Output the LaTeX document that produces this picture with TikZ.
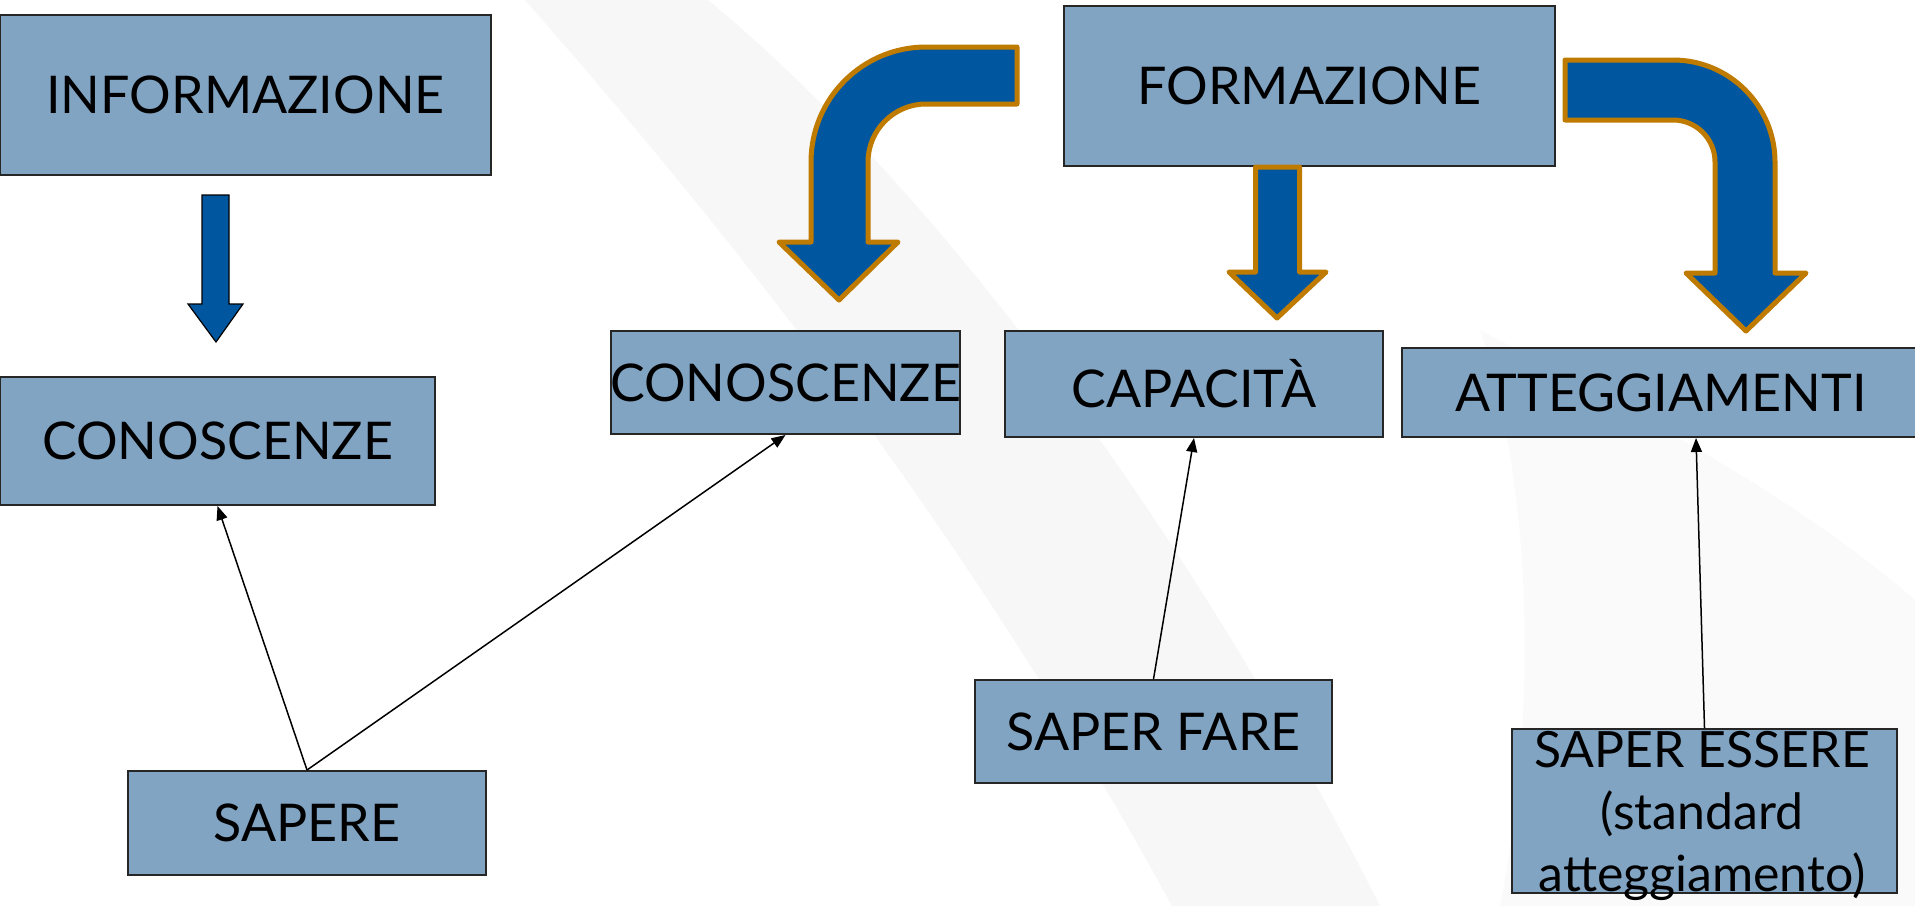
\documentclass[tikz,border=0pt]{standalone}
\usepackage{fontspec}
\setmainfont{Lato}
\usetikzlibrary{arrows.meta,calc}
\definecolor{boxfill}{RGB}{129,164,195}
\definecolor{arrowblue}{RGB}{0,87,160}
\definecolor{arrowrim}{RGB}{191,122,0}
\begin{document}
\begin{tikzpicture}[x=0.5pt,y=-0.5pt,
  box/.style={draw=black!85,line width=1pt,fill=boxfill,inner sep=0pt,
    font=\fontsize{26}{30}\selectfont},
  label/.style={inner sep=0pt,font=\fontsize{25}{31}\selectfont,align=center},
  link/.style={line width=0.75pt,-{Triangle[length=7pt,width=5.5pt]}},
  bigarrow/.style={fill=arrowblue,draw=arrowrim,line width=2.5pt,line join=round},
  smallarrow/.style={fill=arrowblue,draw=black,line width=0.6pt}]
\useasboundingbox (0,0) rectangle (1915,906);
\fill[white] (0,0) rectangle (1915,906);

% soft grey swooshes in the background
\fill[black,opacity=0.03] (525,0) .. controls (700,200) and (950,500) .. (1172,906)
  -- (1380,906) .. controls (1200,550) and (950,200) .. (708,0) -- cycle;
\fill[black,opacity=0.02] (1480,330) .. controls (1650,420) and (1800,500) .. (1915,600)
  -- (1915,906) -- (1500,906) .. controls (1540,700) and (1530,480) .. cycle;

% boxes
\node[box,minimum width=245.5pt,minimum height=80pt] (info) at (245.5,95) {\makebox[0pt]{INFORMAZIONE}};
\node[box,minimum width=217.5pt,minimum height=64pt] (conL) at (217.5,441) {\makebox[0pt]{CONOSCENZE}};
\node[box,minimum width=179pt,minimum height=52pt] (sapere) at (307,823) {\makebox[0pt]{SAPERE}};
\node[box,minimum width=174.5pt,minimum height=51.5pt] (conM) at (785.5,382.5) {\makebox[0pt]{CONOSCENZE}};
\node[box,minimum width=189pt,minimum height=53pt] (cap) at (1194,384) {\makebox[0pt]{CAPACITÀ}};
\node[box,minimum width=259pt,minimum height=44.5pt] (att) at (1661,392.5) {\makebox[0pt]{ATTEGGIAMENTI}};
\node[box,minimum width=245.5pt,minimum height=80pt] (form) at (1309.5,86) {\makebox[0pt]{FORMAZIONE}};
\node[box,minimum width=178.5pt,minimum height=51.5pt] (sfare) at (1153.5,731.5) {\makebox[0pt]{SAPER FARE}};
\node[box,minimum width=192.5pt,minimum height=82pt] (sessere) at (1704.5,811) {};
\node[label,anchor=north] (sesseretext) at (1702,731) {SAPER ESSERE\\(standard\\atteggiamento)};

% thin connectors
\draw[link] (sapere.north) -- (conL.south);
\draw[link] (sapere.north) -- (conM.south);
\draw[link] (sfare.north) -- (cap.south);
\draw[link] (sessere.north) -- ($(att.south)+(35,0)$);

% small straight arrow below INFORMAZIONE
\draw[smallarrow] (202,195) -- (229,195) -- (229,304) -- (243,304) -- (216,342)
  -- (188,304) -- (202,304) -- cycle;

% bent arrow towards the middle CONOSCENZE
\draw[bigarrow] (1017,47) -- (926,47) .. controls (862.5,47) and (811,98.5) .. (811,162)
  -- (811,242) -- (779,242) -- (839,300) -- (898,242) -- (868,242) -- (868,162)
  .. controls (868,130) and (894,104) .. (926,104) -- (1017,104) -- cycle;

% straight arrow from FORMAZIONE to CAPACITA
\draw[bigarrow] (1255.5,167) -- (1299.5,167) -- (1299.5,272) -- (1326,272) -- (1277,318)
  -- (1229,272) -- (1255.5,272) -- cycle;

% bent arrow towards ATTEGGIAMENTI
\draw[bigarrow] (1565,60) -- (1673,60) .. controls (1729.3,60) and (1775,105.7) .. (1775,162)
  -- (1775,273) -- (1806,273) -- (1746,331) -- (1686,273) -- (1715,273) -- (1715,162)
  .. controls (1715,138.8) and (1696.2,120) .. (1673,120) -- (1565,120) -- cycle;
\end{tikzpicture}
\end{document}
